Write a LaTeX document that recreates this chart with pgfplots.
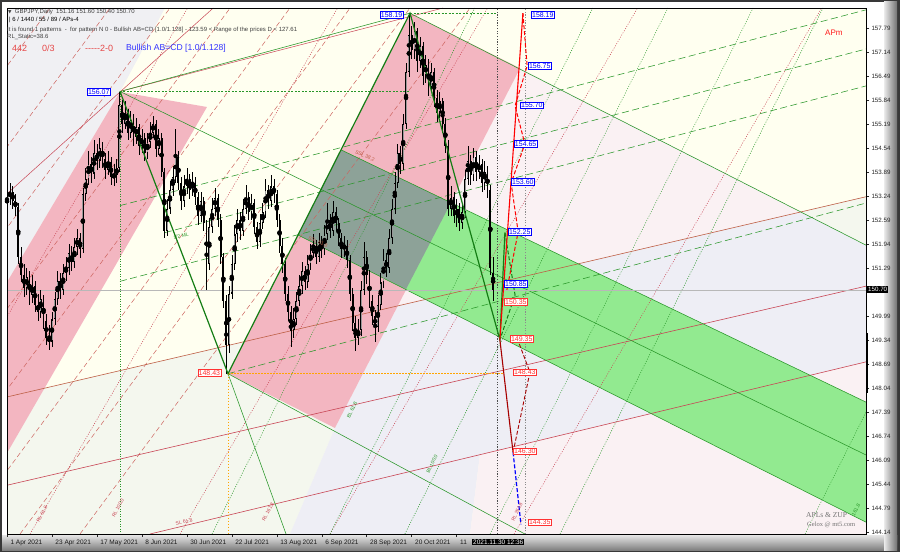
\documentclass[border=0pt]{standalone}
\usepackage{pgfplots}
\pgfplotsset{compat=1.18}
\usepackage{pgfplotstable}
\usepackage{fontspec}
\setmainfont{Liberation Sans}
\newfontfamily\symfont{DejaVu Sans}
\newfontfamily\serifx{Liberation Serif}
\pgfdeclarelayer{background}
\pgfsetlayers{background,main}

\definecolor{cream}{RGB}{255,255,240}
\definecolor{ltgray}{RGB}{240,240,243}
\definecolor{palegreen}{RGB}{244,247,238}
\definecolor{lavender}{RGB}{238,238,245}
\definecolor{palepink}{RGB}{250,241,243}
\definecolor{pinkband}{RGB}{243,182,193}
\definecolor{greenband}{RGB}{146,234,144}
\definecolor{overlap}{RGB}{141,162,152}
\definecolor{lgreen}{RGB}{40,150,40}
\definecolor{dgreen}{RGB}{20,125,20}
\definecolor{fanred}{RGB}{200,70,85}
\definecolor{dashred}{RGB}{205,100,95}
\definecolor{brownred}{RGB}{190,95,70}
\definecolor{lblblue}{RGB}{0,0,255}
\definecolor{lblred}{RGB}{255,50,50}
\definecolor{txtred}{RGB}{230,70,70}
\definecolor{txtblue}{RGB}{50,50,255}
\definecolor{orng}{RGB}{255,165,0}

\tikzset{
  reddash/.style={color=dashred, line width=0.5pt, dash pattern=on 5pt off 3pt},
  reddot/.style={color=fanred, line width=0.5pt, dash pattern=on 1pt off 1.5pt},
  greendash/.style={color=lgreen, line width=0.55pt, dash pattern=on 7pt off 3.5pt},
  greendot/.style={color=lgreen, line width=0.5pt, dash pattern=on 1pt off 1.5pt},
  plbl/.style={draw=#1, fill=white, text=#1, inner sep=0.8pt, line width=0.5pt,
    font=\fontsize{7}{7}\selectfont},
  rlbl/.style={font=\fontsize{5}{6}\selectfont, inner sep=0pt},
}

% daily GBPJPY bars, b = bar number from 1 Apr 2021
\pgfplotstableread{
b o h l c
0 153.00 153.45 152.85 153.20
1 153.20 153.60 153.00 153.35
2 153.35 153.50 152.90 153.10
3 153.10 153.30 152.70 152.95
4 152.95 153.05 151.40 151.60
5 151.60 151.85 150.90 151.10
6 151.10 151.40 150.50 150.75
7 150.75 151.30 150.55 151.05
8 151.05 151.20 150.30 150.55
9 150.55 151.10 150.35 150.80
10 150.80 150.95 150.10 150.30
11 150.30 150.60 149.85 150.10
12 150.10 150.70 149.95 150.45
13 150.45 150.55 149.65 149.85
14 149.85 150.05 149.20 149.40
15 149.40 149.75 149.07 149.30
16 149.30 150.10 149.15 149.90
17 149.90 150.65 149.75 150.45
18 150.45 151.20 150.30 150.95
19 150.95 151.15 150.45 150.70
20 150.70 151.40 150.55 151.15
21 151.15 151.60 150.95 151.30
22 151.30 151.95 151.10 151.70
23 151.70 151.90 151.20 151.45
24 151.45 152.10 151.30 151.85
25 151.85 152.35 151.65 152.10
26 152.10 152.25 151.55 151.80
27 151.80 153.45 151.70 153.30
28 153.30 154.00 153.10 153.70
29 153.70 154.45 153.55 154.10
30 154.10 154.30 153.60 153.85
31 153.85 154.75 153.70 154.40
32 154.40 154.65 153.95 154.20
33 154.20 154.80 154.00 154.55
34 154.55 154.70 154.00 154.25
35 154.25 154.40 153.70 153.95
36 153.95 154.45 153.80 154.15
37 154.15 154.30 153.55 153.75
38 153.75 154.10 153.50 153.80
39 153.80 154.25 153.60 154.00
40 154.00 156.07 153.90 155.70
41 155.70 155.85 154.95 155.20
42 155.20 155.80 155.05 155.50
43 155.50 155.60 154.75 154.95
44 154.95 155.55 154.80 155.30
45 155.30 155.45 154.60 154.85
46 154.85 155.35 154.65 155.10
47 155.10 155.20 154.35 154.60
48 154.60 155.05 154.40 154.80
49 154.80 154.95 154.20 154.40
50 154.40 154.95 154.25 154.70
51 154.70 155.25 154.55 154.95
52 154.95 155.40 154.80 155.20
53 155.20 155.30 154.30 154.50
54 154.50 155.05 154.35 154.80
55 154.80 154.95 153.75 153.90
56 153.90 154.00 152.10 152.30
57 152.30 153.15 152.15 152.90
58 152.90 153.65 152.75 153.40
59 153.40 154.05 153.25 153.75
60 153.75 155.05 153.60 154.30
61 154.30 154.45 153.40 153.60
62 153.60 153.75 152.85 153.10
63 153.10 153.80 152.95 153.50
64 153.50 154.00 153.30 153.70
65 153.70 153.85 153.15 153.40
66 153.40 153.90 153.25 153.60
67 153.60 153.75 153.00 153.20
68 153.20 153.35 152.45 152.70
69 152.70 153.35 152.55 153.10
70 153.10 153.20 152.30 152.50
71 152.50 152.60 150.70 151.40
72 151.40 152.65 151.25 152.40
73 152.40 153.20 152.25 152.90
74 152.90 153.45 152.70 153.20
75 153.20 153.30 152.40 152.60
76 152.60 152.75 151.40 151.60
77 151.60 151.70 150.20 150.40
78 150.40 150.55 148.43 149.20
79 149.20 150.80 149.00 150.60
80 150.60 151.65 150.45 151.40
81 151.40 152.45 151.25 152.20
82 152.20 152.90 152.00 152.60
83 152.60 152.80 152.05 152.30
84 152.30 153.15 152.15 152.90
85 152.90 153.55 152.75 153.20
86 153.20 153.35 152.60 152.80
87 152.80 153.30 152.60 153.05
88 153.05 153.15 152.20 152.40
89 152.40 152.55 151.80 152.00
90 152.00 152.75 151.85 152.50
91 152.50 153.05 152.35 152.80
92 152.80 153.70 152.65 153.40
93 153.40 153.55 152.90 153.10
94 153.10 153.80 152.95 153.50
95 153.50 153.70 153.05 153.30
96 153.30 153.40 152.40 152.60
97 152.60 152.75 151.70 151.90
98 151.90 152.10 151.15 151.40
99 151.40 151.55 150.40 150.60
100 150.60 150.80 149.85 150.10
101 150.10 150.25 149.15 149.60
102 149.60 150.20 149.40 149.90
103 149.90 150.65 149.75 150.40
104 150.40 151.10 150.25 150.80
105 150.80 151.45 150.60 151.20
106 151.20 151.35 150.70 150.90
107 150.90 151.65 150.75 151.40
108 151.40 151.95 151.25 151.70
109 151.70 152.20 151.55 151.90
110 151.90 152.05 151.40 151.60
111 151.60 152.25 151.45 152.00
112 152.00 152.15 151.55 151.80
113 151.80 152.45 151.65 152.20
114 152.20 153.05 152.05 152.60
115 152.60 152.75 152.10 152.30
116 152.30 153.10 152.15 152.80
117 152.80 152.95 152.30 152.50
118 152.50 152.65 151.90 152.10
119 152.10 152.25 151.55 151.80
120 151.80 152.15 151.60 151.90
121 151.90 152.05 151.30 151.50
122 151.50 151.65 150.40 150.60
123 150.60 150.75 149.60 149.80
124 149.80 150.00 149.05 149.40
125 149.40 149.90 149.20 149.60
126 149.60 150.95 149.45 150.70
127 150.70 152.00 150.55 151.60
128 151.60 151.75 150.85 151.10
129 151.10 151.25 150.20 150.40
130 150.40 150.55 149.75 150.00
131 150.00 150.15 149.30 149.70
132 149.70 150.55 149.55 150.30
133 150.30 151.15 150.15 150.90
134 150.90 151.80 150.75 151.50
135 151.50 151.70 151.05 151.30
136 151.30 152.35 151.15 152.10
137 152.10 153.15 151.95 152.90
138 152.90 153.90 152.75 153.60
139 153.60 154.65 153.45 154.40
140 154.40 154.60 153.85 154.10
141 154.10 155.45 153.95 155.20
142 155.20 156.85 155.05 156.60
143 156.60 158.19 156.45 157.60
144 157.60 157.85 156.95 157.20
145 157.20 157.95 156.95 157.70
146 157.70 157.80 156.60 156.90
147 156.90 157.55 156.70 157.30
148 157.30 157.40 156.25 156.50
149 156.50 157.05 156.30 156.80
150 156.80 156.95 155.95 156.20
151 156.20 156.85 156.05 156.60
152 156.60 156.70 155.65 155.90
153 155.90 156.10 155.25 155.50
154 155.50 156.05 155.35 155.80
155 155.80 155.90 154.95 155.20
156 155.20 155.35 154.40 154.60
157 154.60 154.75 152.70 152.90
158 152.90 153.50 152.70 153.20
159 153.20 153.35 152.50 152.70
160 152.70 153.15 152.40 152.90
161 152.90 153.05 152.30 152.50
162 152.50 153.05 152.35 152.80
163 152.80 153.95 152.65 153.70
164 153.70 154.60 153.55 154.20
165 154.20 154.35 153.55 153.80
166 153.80 154.55 153.65 154.30
167 154.30 154.45 153.65 153.90
168 153.90 154.35 153.70 154.10
169 154.10 154.25 153.35 153.60
170 153.60 154.20 153.40 153.90
171 153.90 154.05 153.20 153.40
172 153.40 153.55 151.10 151.30
173 151.16 151.60 150.40 150.70
}\candles

\begin{document}
\begin{tikzpicture}[x=1pt,y=1pt]
\begin{axis}[
  width=859pt, height=526pt, scale only axis,
  xmin=0, xmax=305.7, ymin=144.09, ymax=158.33,
  axis background/.style={fill=cream},
  axis on top=true,
  axis line style={black, line width=0.6pt},
  tick align=outside, major tick length=3pt,
  tick style={black!85, line width=0.4pt},
  xtick pos=left, ytick pos=right,
  xtick={0,16,32,48,64,80,96,112,128,144,160},
  xticklabels={1 Apr 2021,23 Apr 2021,17 May 2021,8 Jun 2021,30 Jun 2021,22 Jul 2021,13 Aug 2021,6 Sep 2021,28 Sep 2021,20 Oct 2021,11},
  xticklabel style={anchor=north west, font=\fontsize{6.5}{7}\selectfont, text=black!90, xshift=0pt, yshift=1pt},
  ytick={157.79,157.14,156.49,155.84,155.19,154.54,153.89,153.24,152.59,151.94,151.29,149.99,149.34,148.69,148.04,147.39,146.74,146.09,145.44,144.79,144.14},
  yticklabel style={anchor=west, font=\fontsize{6.2}{7}\selectfont, text=black!85, xshift=-1pt},
  /pgf/number format/.cd, fixed, fixed zerofill, precision=2, assume math mode=true,
]
\coordinate (bl) at (rel axis cs:0,0);
% ---- background zones
\addplot[fill=ltgray, draw=none] coordinates {(0,158.33) (56.2,158.33) (40.21,156.06) (0,150.91)} -- cycle;
\addplot[fill=palegreen, draw=none] coordinates {(0,147.80) (104.3,149.65) (116.7,146.96) (100.7,144.09) (0,144.09)} -- cycle;
\addplot[fill=lavender, draw=none] coordinates {(100.7,144.09) (116.7,146.96) (139.06,150.27) (282.5,152.81) (305.7,153.22) (305.7,148.75) (168.3,146.24) (164.8,144.09)} -- cycle;
\addplot[fill=palepink, draw=none] coordinates {(182.6,156.70) (282.5,152.81) (139.06,150.27)} -- cycle;
\addplot[fill=palegreen, draw=none] coordinates {(282.5,152.81) (305.7,153.22) (305.7,151.91)} -- cycle;
\addplot[fill=palepink, draw=none] coordinates {(164.8,144.09) (168.3,146.24) (305.7,148.75) (305.7,144.09)} -- cycle;
% ---- channels
\addplot[fill=pinkband, draw=none] coordinates {(0,150.91) (40.21,156.06) (71.17,155.65) (0,146.28)} -- cycle;
\addplot[fill=pinkband, draw=none] coordinates {(78.65,148.43) (143.42,158.19) (182.6,156.70) (116.7,146.96)} -- cycle;
\addplot[fill=greenband, draw=none] coordinates {(103.57,152.185) (118.87,154.49) (305.7,147.66) (305.7,144.41)} -- cycle;
\addplot[fill=overlap, draw=none] coordinates {(103.57,152.185) (118.87,154.49) (157.97,153.06) (142.03,150.72)} -- cycle;

% ---- dashed red fan
\addplot[reddash] coordinates {(-123.5,144.09) (15.30,158.33)};
\addplot[reddash] coordinates {(-102.1,144.09) (36.65,158.33)};
\addplot[reddash] coordinates {(-80.8,144.09) (58.0,158.33)};
\addplot[reddash] coordinates {(-59.4,144.09) (79.4,158.33)};
\addplot[reddash] coordinates {(-38.1,144.09) (100.7,158.33)};
\addplot[reddash] coordinates {(-16.7,144.09) (122.1,158.33)};
\addplot[reddash] coordinates {(4.63,144.09) (143.4,158.33)};
\addplot[reddash] coordinates {(25.98,144.09) (164.8,158.33)};
% ---- dotted red fan
\addplot[reddot] coordinates {(-45.2,144.09) (64.27,158.33)};
\addplot[reddot] coordinates {(8.19,144.09) (117.65,158.33)};
\addplot[reddot] coordinates {(61.57,144.09) (171.03,158.33)};
\addplot[reddot] coordinates {(114.95,144.09) (224.4,158.33)};
\addplot[reddot] coordinates {(180.43,144.09) (289.9,158.33)};
% ---- dotted green fan
\addplot[greendot] coordinates {(72.95,144.09) (166.5,158.33)};
\addplot[greendot] coordinates {(114.95,144.09) (208.5,158.33)};
\addplot[greendot] coordinates {(141.6,144.09) (235.2,158.33)};
\addplot[greendot] coordinates {(171.9,144.09) (265.5,158.33)};
\addplot[greendot] coordinates {(196.8,144.09) (290.4,158.33)};
\addplot[greendot] coordinates {(284.0,144.09) (377.6,158.33)};
% ---- dashed green median lines
\addplot[greendash] coordinates {(40.21,152.98) (305.7,158.28)};
\addplot[greendash] coordinates {(56.2,152.25) (305.7,157.22)};
\addplot[greendash] coordinates {(40.21,150.93) (305.7,156.22)};
\addplot[greendash] coordinates {(78.65,148.43) (305.7,153.05)};

% ---- red solid lines
\addplot[brownred, line width=0.6pt] coordinates {(0,147.80) (305.7,153.22)};
\addplot[fanred, line width=0.6pt] coordinates {(0,145.41) (305.7,150.80)};
\addplot[fanred, line width=0.6pt] coordinates {(50.9,144.09) (305.7,148.75)};
\addplot[fanred, line width=0.5pt] coordinates {(0,153.30) (73.4,158.33)};
\addplot[fanred, line width=0.5pt] coordinates {(40.21,156.07) (155.2,158.33)};
% ---- green thin lines
\addplot[lgreen, line width=0.55pt] coordinates {(40.21,156.07) (305.7,146.23)};
\addplot[lgreen, line width=0.55pt] coordinates {(40.21,156.07) (143.42,158.19)};
\addplot[lgreen, line width=0.55pt] coordinates {(143.42,158.19) (305.7,151.91)};
\addplot[lgreen, line width=0.55pt] coordinates {(78.65,148.43) (99.3,144.09)};
\addplot[lgreen, line width=0.55pt] coordinates {(78.65,148.43) (184.3,144.09)};
\addplot[lgreen, line width=0.55pt] coordinates {(118.87,154.49) (305.7,147.66)};
\addplot[lgreen, line width=0.55pt] coordinates {(103.57,152.185) (305.7,144.41)};

% ---- verticals and horizontals
\addplot[greendot] coordinates {(40.21,156.07) (40.21,144.09)};
\addplot[orng, line width=0.5pt, dash pattern=on 1.5pt off 1.5pt] coordinates {(78.65,148.43) (78.65,144.09)};
\addplot[black!70, line width=0.6pt, dash pattern=on 1.2pt off 1.5pt] coordinates {(174.4,144.09) (174.4,158.33)};
\addplot[black!45, line width=0.6pt, dash pattern=on 1.2pt off 1.5pt] coordinates {(184.3,144.09) (184.3,158.33)};
\addplot[lgreen, line width=0.5pt, dash pattern=on 2pt off 1.5pt] coordinates {(40.21,156.07) (143.42,156.07)};
\addplot[lgreen, line width=0.5pt, dash pattern=on 2pt off 1.5pt] coordinates {(143.42,158.19) (174.4,158.19)};
\addplot[orng, line width=0.5pt, dash pattern=on 1.5pt off 1.5pt] coordinates {(78.65,148.43) (176.5,148.43)};
\addplot[black!28, line width=0.5pt] coordinates {(0,150.70) (305.7,150.70)};

% ---- candles: wicks, bodies, hollow bull bodies
\addplot[only marks, mark=none, forget plot,
  error bars/.cd, y dir=both, y explicit, error mark=none,
  error bar style={draw=black, solid, line width=0.5pt}]
  table[x=b, y expr=(\thisrow{h}+\thisrow{l})/2, y error expr=(\thisrow{h}-\thisrow{l})/2] {\candles};
\addplot[only marks, mark=none, forget plot,
  error bars/.cd, y dir=both, y explicit, error mark=none,
  error bar style={draw=black, solid, line width=1.9pt}]
  table[x=b, y expr=(\thisrow{o}+\thisrow{c})/2, y error expr={max(abs(\thisrow{c}-\thisrow{o})/2,0.02)}] {\candles};
\addplot[only marks, mark=none, forget plot,
  error bars/.cd, y dir=both, y explicit, error mark=none,
  error bar style={draw=black!40, solid, line width=0.9pt}]
  table[x=b, y expr=(\thisrow{o}+\thisrow{c})/2, y error expr={max((\thisrow{c}-\thisrow{o})/2-0.03,0)}] {\candles};

% ---- pattern lines
\addplot[dgreen, line width=1.2pt] coordinates {(40.21,156.07) (78.65,148.43) (143.42,158.19) (175.4,149.35) (177.2,152.25)};
\addplot[dgreen, line width=1pt, dash pattern=on 4pt off 2pt] coordinates {(177.2,152.25) (180.8,150.56) (175.4,149.35)};
\addplot[red, line width=1.1pt] coordinates {(183.6,158.19) (175.4,149.35)};
\addplot[red, line width=1pt, dash pattern=on 4pt off 2pt] coordinates {(183.6,158.19) (185.1,156.76) (180.8,155.68) (184.3,154.65) (179.4,153.59) (181.9,152.27) (177.9,150.70)};
\addplot[red!65!black, line width=1.1pt] coordinates {(175.4,149.35) (180.1,146.30)};
\addplot[red!65!black, line width=0.9pt, dash pattern=on 4pt off 2pt] coordinates {(180.1,146.30) (186.1,148.47) (181.5,149.40)};
\addplot[blue, line width=1.2pt, dash pattern=on 4pt off 2pt] coordinates {(180.1,146.30) (182.9,144.35)};

% ---- price labels
\node[plbl=lblblue, anchor=west] at (axis cs:28.47,156.06) {156.07};
\node[plbl=lblblue, anchor=west] at (axis cs:132.7,158.15) {158.19};
\node[plbl=lblblue, anchor=west] at (axis cs:186.5,158.15) {158.19};
\node[plbl=lblblue, anchor=west] at (axis cs:185.4,156.76) {156.75};
\node[plbl=lblblue, anchor=west] at (axis cs:182.6,155.70) {155.70};
\node[plbl=lblblue, anchor=west] at (axis cs:180.4,154.65) {154.65};
\node[plbl=lblblue, anchor=west] at (axis cs:179.4,153.62) {153.60};
\node[plbl=lblblue, anchor=west] at (axis cs:178.3,152.27) {152.25};
\node[plbl=lblblue, anchor=west] at (axis cs:176.9,150.86) {150.85};
\node[plbl=lblred, anchor=west] at (axis cs:176.9,150.37) {150.35};
\node[plbl=lblred, anchor=west] at (axis cs:179.0,149.37) {149.35};
\node[plbl=lblred, anchor=east] at (axis cs:76.2,148.45) {148.43};
\node[plbl=lblred, anchor=west] at (axis cs:180.1,148.47) {148.43};
\node[plbl=lblred, anchor=west] at (axis cs:180.1,146.33) {146.30};
\node[plbl=lblred, anchor=west] at (axis cs:185.4,144.41) {144.35};
\end{axis}

\begin{scope}[shift={(bl)}, xshift=-7pt, yshift=-18pt]
\begin{pgfonlayer}{background}
\fill[black!78] (0,0) rectangle (900,552);
\fill[white] (2,2) rectangle (897,550);
\shade[top color=black!10, bottom color=black!50] (2,2) rectangle (897,17);
\shade[left color=black!8, right color=black!55] (884,2) rectangle (897,550);
\fill[white] (2,17) rectangle (884,550);
\end{pgfonlayer}
% ---- texts on the chart
\node[anchor=west, inner sep=0, font=\fontsize{6}{7}\selectfont, text=black!75] at (8,540)
  {{\symfont\fontsize{4.5}{5}\selectfont ▼}\ \ GBPJPY,Daily\ \ 151.16 151.60 150.40 150.70};
\node[anchor=west, inner sep=0, font=\fontsize{6}{7}\selectfont, text=black] at (9,532.5)
  {|\ 6 / 1440 / 55 / 89 / APs-4};
\node[anchor=west, inner sep=0, font=\fontsize{6}{7}\selectfont, text=black!75] at (7,522.5)
  {It is found 1 patterns\ \ -\ \ for pattern N 0 - Bullish AB=CD [1.0/1.128] - 123.59 < Range of the prices D < 127.61};
\node[anchor=west, inner sep=0, font=\fontsize{6}{7}\selectfont, text=black!75] at (7,515)
  {RL\_Static=38.6};
\node[anchor=west, inner sep=0, font=\fontsize{9}{10}\selectfont, text=txtred] at (12,504) {442};
\node[anchor=west, inner sep=0, font=\fontsize{9}{10}\selectfont, text=txtred] at (42,504) {0/3};
\node[anchor=west, inner sep=0, font=\fontsize{9}{10}\selectfont, text=txtred] at (85,504) {{-}{-}{-}{-}{-}2{-}0};
\node[anchor=west, inner sep=0, font=\fontsize{8.6}{10}\selectfont, text=txtblue] at (126,504) {Bullish AB=CD [1.0/1.128]};
\node[anchor=west, inner sep=0, font=\fontsize{8}{9}\selectfont, text=red!90] at (825,519) {APm};
\node[anchor=west, inner sep=0, font=\serifx\fontsize{7.5}{8}\selectfont, text=black!55] at (806,37) {APLs \& ZUP};
\node[anchor=west, inner sep=0, font=\serifx\fontsize{6.5}{7}\selectfont, text=black!55] at (807,27) {Gelox @ mt5.com};
\node[rlbl, text=lgreen, rotate=11] at (181,316) {1/2 ML};
\node[rlbl, text=fanred, rotate=62] at (42,38) {RL 61.8};
\node[rlbl, text=fanred, rotate=62] at (118,44) {RL 100.0};
\node[rlbl, text=fanred, rotate=14] at (184,30) {SL 61.8};
\node[rlbl, text=fanred, rotate=62] at (268,40) {RL 161.8};
\node[rlbl, text=lgreen, rotate=65] at (352,142) {BL 61.8};
\node[rlbl, text=lgreen, rotate=65] at (432,88) {BL 100.0};
\node[rlbl, text=fanred, rotate=65] at (517,40) {RL 261.8};
\node[rlbl, text=lgreen, rotate=62] at (856,42) {161.8};
\node[rlbl, text=brownred, rotate=-25] at (365,396) {SSL 38.2};
\node[rlbl, text=brownred, rotate=-25] at (318,310) {SSL 61.8};
% ---- crosshair labels and axis marker
\draw[black, line width=2pt] (867,219) -- (867,159);
\node[anchor=west, fill=black, text=white, inner sep=1pt, font=\fontsize{6.5}{7}\selectfont] at (472,10) {2021.11.30 12:36};
\node[anchor=west, fill=black, text=white, inner sep=1pt, font=\fontsize{6.2}{7}\selectfont] at (867,262.5) {150.70};
\pgfresetboundingbox
\path[use as bounding box] (0,0) rectangle (900,552);
\end{scope}
\end{tikzpicture}
\end{document}
